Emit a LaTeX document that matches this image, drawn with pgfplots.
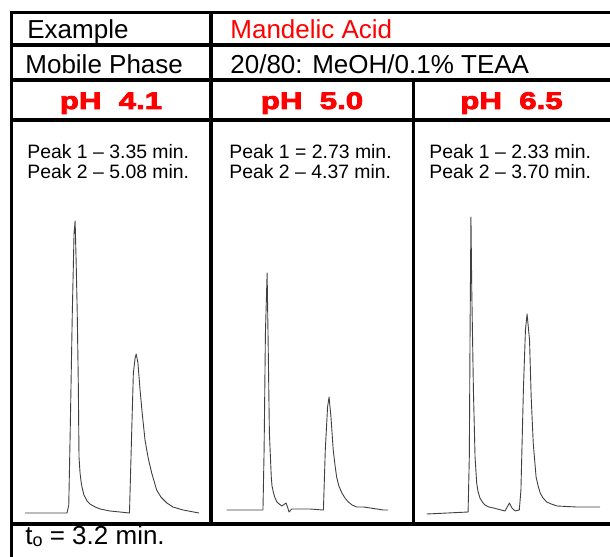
\documentclass[border=0pt]{standalone}
\usepackage{fontspec}
\setmainfont{Liberation Sans}
\newfontfamily\heavy{Liberation Sans Bold}[FakeBold=3.5,FakeStretch=1.3]
\usepackage{pgfplots}
\pgfplotsset{compat=1.18}
\definecolor{hdrred}{RGB}{255,0,0}

\begin{document}
\begin{tikzpicture}
\useasboundingbox (0bp,0bp) rectangle (305bp,-278.5bp);
\pgfplotsset{chrom/.style={scale only axis, hide axis, clip=false,
  ymin=-10, ymax=300, height=155bp, anchor=south west}}
\tikzset{trace/.style={black!75, line width=0.45bp, line join=round}}

% pH 4.1 chromatogram (time in min, signal)
\begin{axis}[chrom, at={(12.5bp,-261.5bp)}, width=87bp, xmin=1.93, xmax=6.86]
\addplot[trace] coordinates {(1.93,0)(3.12,0)(3.17,8)(3.21,80)(3.27,200)(3.32,280)(3.35,292)(3.38,250)(3.41,200)(3.44,130)(3.46,56)(3.49,40)(3.52,31)(3.55,25)(3.60,18)(3.69,12)(3.77,9)(3.92,6)(4.06,4)(4.34,2)(4.62,1)(4.89,0)(4.96,90)(5.00,140)(5.05,155)(5.08,159)(5.13,150)(5.19,123)(5.25,100)(5.33,73)(5.42,55)(5.52,40)(5.66,23)(5.78,16)(5.95,10)(6.12,6)(6.41,3)(6.86,0)};
\end{axis}

% pH 5.0 chromatogram
\begin{axis}[chrom, at={(113.35bp,-261.5bp)}, width=80.65bp, xmin=1.66, xmax=5.93]
\addplot[trace] coordinates {(1.66,3)(2.62,3)(2.65,63)(2.685,180)(2.73,240)(2.76,163)(2.79,80)(2.84,36)(2.86,27)(2.90,20)(2.94,15)(2.99,11)(3.05,9)(3.12,7)(3.23,10)(3.27,6)(3.31,1)(3.38,4)(3.87,4)(4.20,3)(4.22,3)(4.27,63)(4.33,106)(4.37,116)(4.42,96)(4.48,63)(4.53,47)(4.57,36)(4.63,27)(4.71,20)(4.79,15)(4.88,11)(4.98,8)(5.10,6)(5.28,6)(5.46,5)(5.81,3)(5.93,3)};
\end{axis}

% pH 6.5 chromatogram
\begin{axis}[chrom, at={(213.35bp,-261.5bp)}, width=86.65bp, xmin=1.25, xmax=5.48]
\addplot[trace] coordinates {(1.25,-1)(2.26,1)(2.29,56)(2.31,190)(2.33,296)(2.35,223)(2.39,123)(2.43,56)(2.47,30)(2.50,22)(2.55,15)(2.61,11)(2.67,8)(2.77,6)(2.88,5)(3.16,2)(3.27,10)(3.33,5)(3.41,2)(3.51,3)(3.55,23)(3.61,123)(3.66,183)(3.70,199)(3.76,173)(3.80,116)(3.85,70)(3.92,36)(3.97,27)(4.02,20)(4.09,15)(4.18,11)(4.29,9)(4.43,7)(4.91,6)(5.24,6)(5.48,6)};
\end{axis}

\begin{scope}[x=0.5bp,y=-0.5bp]
% table rules
\begin{scope}[line width=1.75bp]
\draw (10,12.5) -- (610,12.5);
\draw (10,45) -- (610,45);
\draw (10,80) -- (610,80);
\draw (10,120) -- (610,120);
\draw (10,524) -- (610,524);
\draw (11.7,11.6) -- (11.7,557);
\draw (211,12.5) -- (211,524);
\draw (413.3,80) -- (413.3,524);
\end{scope}

% texts
\begin{scope}[every node/.style={inner sep=0pt, anchor=base west}]
\node[font=\fontsize{13bp}{15bp}\selectfont] at (27,38.3) {Example};
\node[font=\fontsize{13bp}{15bp}\selectfont, text=hdrred] at (230,38.3) {Mandelic Acid};
\node[font=\fontsize{13bp}{15bp}\selectfont] at (25,73.3) {Mobile Phase};
\node[font=\fontsize{13bp}{15bp}\selectfont] at (230,73.3) {20/80: MeOH/0.1\% TEAA};
\node[font=\heavy\fontsize{12bp}{14bp}\selectfont, text=hdrred, anchor=base] at (111,109) {pH\ \ 4.1};
\node[font=\heavy\fontsize{12bp}{14bp}\selectfont, text=hdrred, anchor=base] at (312,109) {pH\ \ 5.0};
\node[font=\heavy\fontsize{12bp}{14bp}\selectfont, text=hdrred, anchor=base] at (511.5,109) {pH\ \ 6.5};
\node[font=\fontsize{9.7bp}{10bp}\selectfont] at (27,158.3) {Peak 1 – 3.35 min.};
\node[font=\fontsize{9.7bp}{10bp}\selectfont] at (27,178.3) {Peak 2 – 5.08 min.};
\node[font=\fontsize{9.7bp}{10bp}\selectfont] at (229,158.3) {Peak 1 = 2.73 min.};
\node[font=\fontsize{9.7bp}{10bp}\selectfont] at (229,178.3) {Peak 2 – 4.37 min.};
\node[font=\fontsize{9.7bp}{10bp}\selectfont] at (429,158.3) {Peak 1 – 2.33 min.};
\node[font=\fontsize{9.7bp}{10bp}\selectfont] at (429,178.3) {Peak 2 – 3.70 min.};
\node[font=\fontsize{13bp}{15bp}\selectfont] at (25,545) {t\raisebox{-0.6bp}{\fontsize{9bp}{9bp}\selectfont o} = 3.2 min.};
\end{scope}
\end{scope}
\end{tikzpicture}
\end{document}
